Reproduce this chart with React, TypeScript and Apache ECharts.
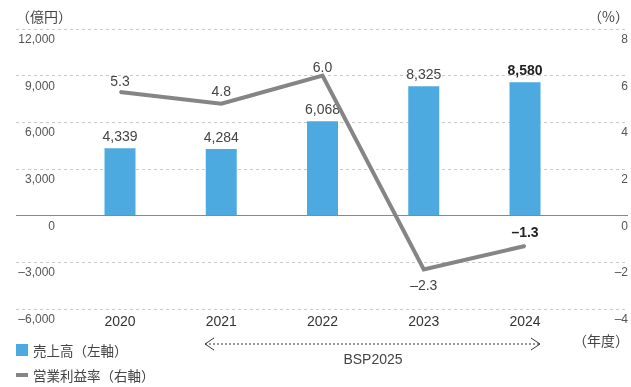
import React, { useEffect, useRef } from "react";
import * as echarts from "echarts";

const years = [2020, 2021, 2022, 2023, 2024];
const sales = [4339, 4284, 6068, 8325, 8580];
const margin = [5.3, 4.8, 6.0, -2.3, -1.3];
const marginLabelPos = ["top", "top", "top", "bottom", "top"];
const marginLabelDist = [3, 5, 1, 8, 6];
const boldIndex = 4;
const leftTicks = [-6000, 12000, 3000];
const rightTicks = [-4, 8, 2];

const FONT = '"Liberation Sans", "Noto Sans CJK JP", sans-serif';
const JFONT = '"Noto Sans CJK JP", "Liberation Sans", sans-serif';
const BLUE = "#4DAAE0";
const GRAY = "#858585";

const fmtNum = (v: number) => {
  const s = Math.abs(v).toLocaleString("en-US");
  return v < 0 ? "–" + s : s;
};
const fmtPct = (v: number) => (v < 0 ? "–" + Math.abs(v).toFixed(1) : v.toFixed(1));

export default function App() {
  const ref = useRef<HTMLDivElement>(null);
  useEffect(() => {
    if (!ref.current) return;
    const chart = echarts.init(ref.current, null, { renderer: "svg" });
    const xMin = 2018.9728;
    const xMax = 2025.0172;
    chart.setOption({
      animation: false,
      textStyle: { fontFamily: FONT },
      grid: { left: 16, right: 3, top: 29, bottom: 78, containLabel: false },
      xAxis: {
        type: "value",
        min: xMin,
        max: xMax,
        splitLine: { show: false },
        axisLine: { show: false },
        axisTick: { show: false },
        axisLabel: {
          customValues: years,
          formatter: (v: number) => String(Math.round(v)),
          color: "#333",
          fontSize: 14,
          margin: 5,
          fontFamily: FONT,
        },
      },
      yAxis: [
        {
          type: "value",
          min: leftTicks[0],
          max: leftTicks[1],
          interval: leftTicks[2],
          axisLine: { show: false },
          axisTick: { show: false },
          splitLine: { show: true, lineStyle: { type: [3, 3], color: "#c8c8c8", width: 1 } },
          axisLabel: {
            inside: true,
            align: "right",
            margin: 39,
            verticalAlign: "top",
            padding: [4, 0, 0, 0],
            color: "#555",
            fontSize: 12,
            formatter: (v: number) => fmtNum(v),
          },
        },
        {
          type: "value",
          min: rightTicks[0],
          max: rightTicks[1],
          interval: rightTicks[2],
          axisLine: { show: false },
          axisTick: { show: false },
          splitLine: { show: false },
          axisLabel: {
            inside: true,
            align: "right",
            margin: 0,
            verticalAlign: "top",
            padding: [4, 0, 0, 0],
            color: "#555",
            fontSize: 12,
            formatter: (v: number) => (v < 0 ? "–" + Math.abs(v) : String(v)),
          },
        },
      ],
      legend: {
        orient: "vertical",
        left: 16,
        top: 343,
        padding: 0,
        itemWidth: 12,
        itemHeight: 12,
        itemGap: 11,
        textStyle: { fontSize: 13.5, color: "#444", fontFamily: JFONT, lineHeight: 14 },
        data: [
          { name: "売上高（左軸）", icon: "rect" },
          { name: "営業利益率（右軸）", icon: "path://M0,0H12V4H0Z" },
        ],
      },
      series: [
        {
          name: "売上高（左軸）",
          type: "bar",
          yAxisIndex: 0,
          barWidth: 31,
          itemStyle: { color: BLUE },
          data: years.map((y, i) => ({
            value: [y, sales[i]],
            label: i === boldIndex ? { fontWeight: "bold", color: "#222" } : undefined,
          })),
          label: {
            show: true,
            position: "top",
            distance: 5,
            fontSize: 14,
            color: "#444",
            fontFamily: FONT,
            formatter: (p: any) => fmtNum(p.value[1]),
          },
          markLine: {
            silent: true,
            symbol: ["none", "none"],
            label: { show: false },
            lineStyle: { type: "solid", color: "#888", width: 1.2 },
            data: [{ yAxis: 0 }],
          },
          z: 2,
        },
        {
          name: "営業利益率（右軸）",
          type: "line",
          yAxisIndex: 1,
          symbol: "circle",
          symbolSize: 2,
          showSymbol: true,
          itemStyle: { color: GRAY },
          lineStyle: { color: GRAY, width: 4, join: "miter", cap: "butt" },
          data: years.map((y, i) => ({
            value: [y, margin[i]],
            label: {
              position: marginLabelPos[i],
              distance: marginLabelDist[i],
              ...(i === boldIndex ? { fontWeight: "bold", color: "#222" } : {}),
            },
          })),
          label: {
            show: true,
            fontSize: 14,
            color: "#444",
            fontFamily: FONT,
            formatter: (p: any) => fmtPct(p.value[1]),
          },
          z: 3,
        },
      ],
      graphic: [
        {
          type: "text",
          x: 16,
          y: 16,
          style: { text: "（億円）", fontSize: 14, fill: "#444", fontFamily: JFONT, align: "left", verticalAlign: "middle" },
        },
        {
          type: "text",
          x: 629,
          y: 16,
          style: { text: "（%）", fontSize: 14, fill: "#444", fontFamily: JFONT, align: "right", verticalAlign: "middle" },
        },
        {
          type: "text",
          x: 629,
          y: 340,
          style: { text: "（年度）", fontSize: 14, fill: "#444", fontFamily: JFONT, align: "right", verticalAlign: "middle" },
        },
        {
          type: "line",
          shape: { x1: 205, y1: 344, x2: 540, y2: 344 },
          style: { stroke: "#333", lineWidth: 1, lineDash: [2, 2] },
        },
        {
          type: "polyline",
          shape: { points: [[214, 338], [205, 344], [214, 350]] },
          style: { stroke: "#333", lineWidth: 1, fill: "none" },
        },
        {
          type: "polyline",
          shape: { points: [[531, 338], [540, 344], [531, 350]] },
          style: { stroke: "#333", lineWidth: 1, fill: "none" },
        },
        {
          type: "text",
          x: 373,
          y: 359,
          style: { text: "BSP2025", fontSize: 14, fill: "#444", fontFamily: FONT, align: "center", verticalAlign: "middle" },
        },
      ],
    });
    return () => chart.dispose();
  }, []);
  return <div ref={ref} style={{ position: "fixed", left: 0, top: 0, width: 631, height: 387 }} />;
}
